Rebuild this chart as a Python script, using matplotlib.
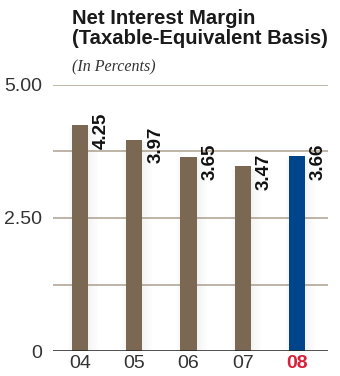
import matplotlib
matplotlib.use("Agg")
import matplotlib.pyplot as plt
from matplotlib.patches import Rectangle
import numpy as np

years = ["04", "05", "06", "07", "08"]
margins = [4.25, 3.97, 3.65, 3.47, 3.66]
value_labels = ["4.25", "3.97", "3.65", "3.47", "3.66"]
y_ticks = [0, 2.50, 5.00]
y_tick_labels = ["0", "2.50", "5.00"]
grid_levels = [1.25, 2.50, 3.75, 5.00]

BROWN = "#7a6852"
BLUE = "#00458c"
RED = "#d8203c"
GRID = "#b3a797"
TEXT = "#333333"
SANS = ["Liberation Sans", "DejaVu Sans"]

fig = plt.figure(figsize=(3.4, 3.76), dpi=100)
W, H = 340, 376
ax = fig.add_axes([53 / W, 1 - 351 / H, (328 - 53) / W, (351 - 85) / H])

x = np.arange(len(years))
bar_w = 0.296
px = 1 / 54.0  # one pixel in x data units

ax.set_xlim(-0.5, 4.574)
ax.set_ylim(0, 5.0)

# horizontal rules
for g in grid_levels:
    ax.axhline(g, color=GRID, lw=1.2, zorder=1)
ax.axhline(0, color="#222222", lw=1.1, zorder=6)

colors = [BROWN] * (len(years) - 1) + [BLUE]

# soft drop shadow behind each bar
for xi, v in zip(x, margins):
    right = xi + bar_w / 2
    left = xi - bar_w / 2
    for k in range(10):
        a = 0.10 * (1 - k / 10)
        ax.add_patch(Rectangle((right + k * px, 0), px, v - 0.05,
                               color="#8a8f96", alpha=a, lw=0, zorder=2))
    for k in range(4):
        a = 0.07 * (1 - k / 4)
        ax.add_patch(Rectangle((left - (k + 1) * px, 0), px, v - 0.05,
                               color="#8a8f96", alpha=a, lw=0, zorder=2))

ax.bar(x, margins, width=bar_w, color=colors, zorder=3)

# value labels, rotated beside each bar
for xi, v, lab in zip(x, margins, value_labels):
    ax.text(xi + bar_w / 2 + 5 * px, v + 0.24, lab, rotation=90,
            ha="left", va="top", fontsize=13.5, fontweight="bold",
            color="#111111", family=SANS, zorder=5)

ax.set_yticks(y_ticks)
ax.set_yticklabels(y_tick_labels, family=SANS, fontsize=14, color=TEXT)
ax.set_xticks(x)
ax.set_xticklabels(years, family=SANS, fontsize=14, color=TEXT)
ax.get_xticklabels()[-1].set_color(RED)
ax.get_xticklabels()[-1].set_fontweight("bold")
ax.tick_params(axis="both", length=0)
ax.tick_params(axis="y", pad=8)
ax.tick_params(axis="x", pad=3)
for s in ax.spines.values():
    s.set_visible(False)

fig.text(72 / W, 1 - 9 / H, "Net Interest Margin\n(Taxable-Equivalent Basis)",
         ha="left", va="top", fontsize=14.6, fontweight="bold",
         color="#1a1a1a", family=SANS, linespacing=1.08)
fig.text(72 / W, 1 - 59 / H, "(In Percents)", ha="left", va="top",
         fontsize=11.5, style="italic", color=TEXT,
         family=["Liberation Serif", "DejaVu Serif"])

fig.savefig("out.png", dpi=100)
